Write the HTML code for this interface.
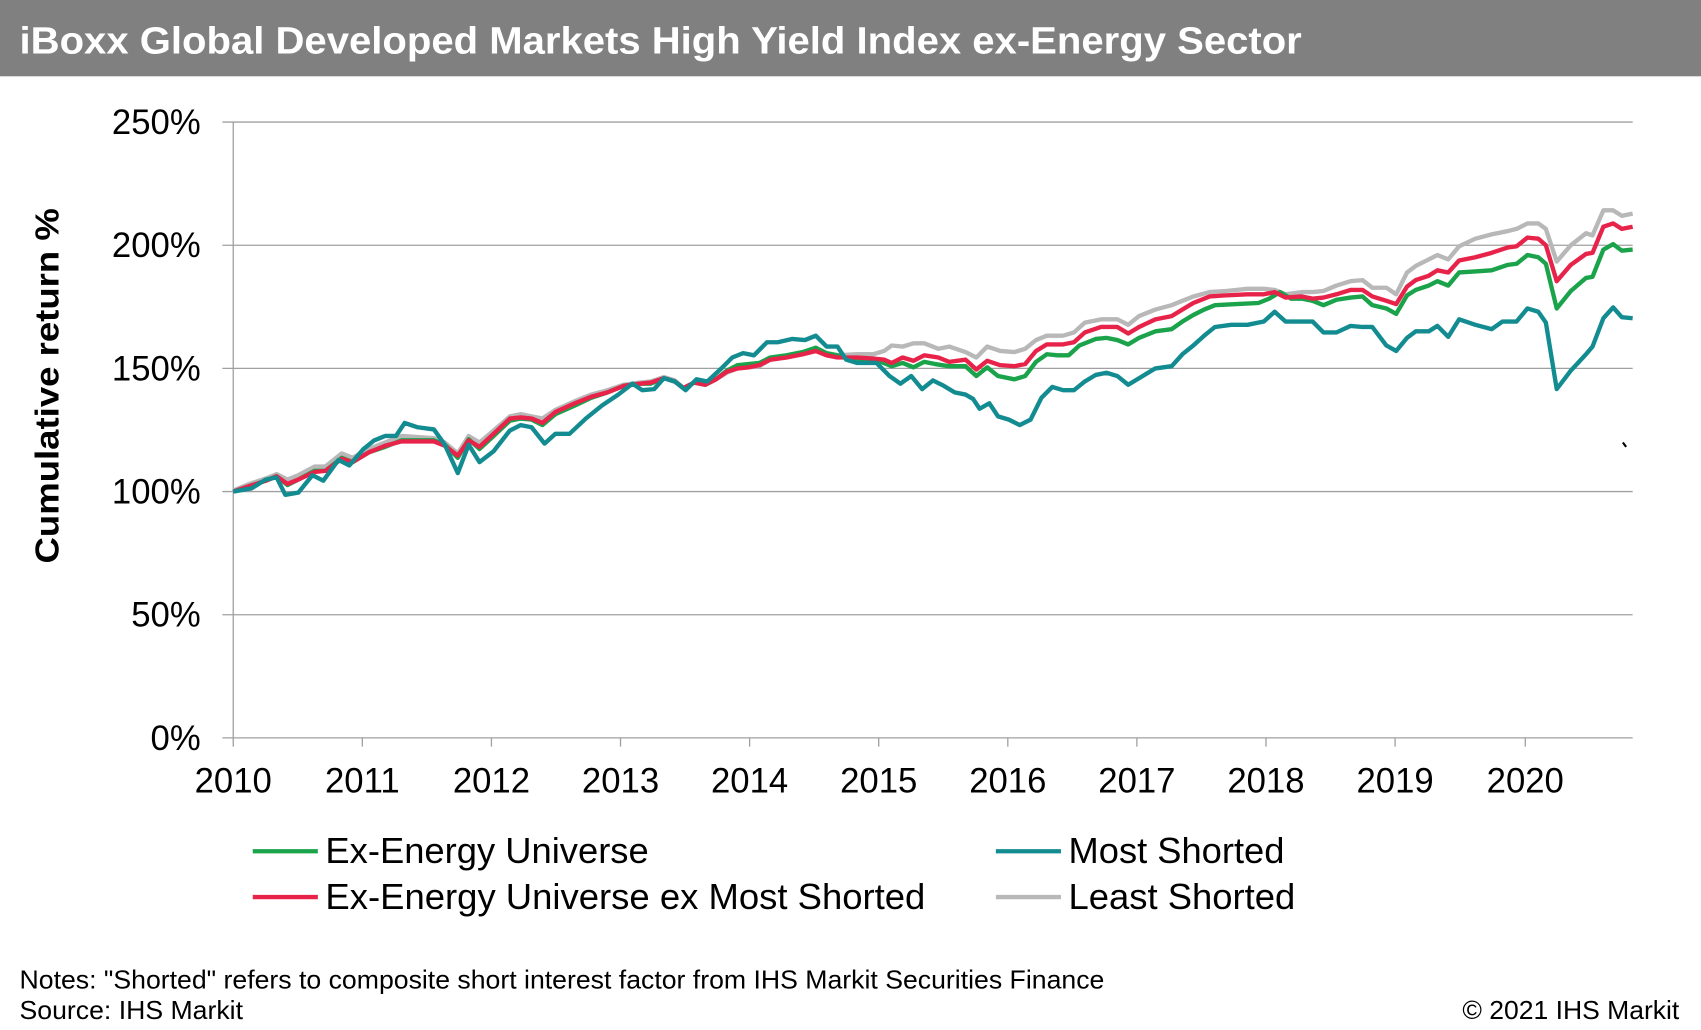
<!DOCTYPE html>
<html><head><meta charset="utf-8"><style>html,body{margin:0;padding:0;background:#fff}svg{display:block}</style></head>
<body>
<svg width="1701" height="1030" viewBox="0 0 1568 945" preserveAspectRatio="none" xmlns="http://www.w3.org/2000/svg" font-family="Liberation Sans, Arial, sans-serif">
<rect x="0" y="0" width="1568" height="70" fill="#808080"/>
<text x="18" y="49" font-size="35" font-weight="bold" fill="#fff" textLength="1182" lengthAdjust="spacingAndGlyphs">iBoxx Global Developed Markets High Yield Index ex-Energy Sector</text>
<g stroke="#a0a0a0" stroke-width="1.2">
<line x1="205" y1="112" x2="1505" y2="112"/>
<line x1="205" y1="225" x2="1505" y2="225"/>
<line x1="205" y1="338" x2="1505" y2="338"/>
<line x1="205" y1="451" x2="1505" y2="451"/>
<line x1="205" y1="564" x2="1505" y2="564"/>
<line x1="205" y1="677" x2="1505" y2="677"/>
<line x1="215" y1="112" x2="215" y2="685"/>
</g>
<g stroke="#a0a0a0" stroke-width="1.2">
<line x1="334" y1="677" x2="334" y2="685"/><line x1="453" y1="677" x2="453" y2="685"/><line x1="572" y1="677" x2="572" y2="685"/><line x1="691" y1="677" x2="691" y2="685"/><line x1="810" y1="677" x2="810" y2="685"/><line x1="929" y1="677" x2="929" y2="685"/><line x1="1048" y1="677" x2="1048" y2="685"/><line x1="1167" y1="677" x2="1167" y2="685"/><line x1="1286" y1="677" x2="1286" y2="685"/><line x1="1406" y1="677" x2="1406" y2="685"/>
</g>
<g font-size="32" fill="#000" text-anchor="end">
<text x="185" y="123">250%</text><text x="185" y="236">200%</text><text x="185" y="349">150%</text><text x="185" y="462">100%</text><text x="185" y="575">50%</text><text x="185" y="688">0%</text>
</g>
<g font-size="32" fill="#000" text-anchor="middle">
<text x="215" y="727">2010</text><text x="334" y="727">2011</text><text x="453" y="727">2012</text><text x="572" y="727">2013</text><text x="691" y="727">2014</text><text x="810" y="727">2015</text><text x="929" y="727">2016</text><text x="1048" y="727">2017</text><text x="1167" y="727">2018</text><text x="1286" y="727">2019</text><text x="1406" y="727">2020</text>
</g>
<text transform="translate(54,354) rotate(-90)" font-size="31" font-weight="bold" text-anchor="middle" textLength="326" lengthAdjust="spacingAndGlyphs">Cumulative return %</text>
<g fill="none" stroke-width="4" stroke-linejoin="round">
<polyline stroke="#b8b8b8" points="215,450 230,444 245,439 255,435 265,440 275,436 290,428 300,428 315,416 325,420 340,412 355,406 370,400 385,401 400,402 410,406 422,416 432,400 442,406 455,395 470,382 480,380 490,382 500,384 512,376 530,368 545,362 560,358 575,353 590,351 600,350 612,346 622,349 630,356 640,351 650,353 660,348 670,342 680,338 690,337 700,336 710,330 725,328 740,325 752,322 762,326 772,326 790,325 805,325 815,322 822,317 832,318 842,315 852,315 865,320 875,318 890,323 900,328 910,318 922,322 935,323 945,320 955,312 965,308 980,308 990,305 1000,296 1015,293 1030,293 1040,298 1050,290 1065,284 1080,280 1090,276 1100,272 1115,268 1130,267 1150,265 1165,265 1175,266 1185,270 1200,268 1210,268 1220,267 1232,262 1245,258 1256,257 1265,264 1278,264 1287,270 1297,250 1305,244 1317,238 1325,234 1335,238 1345,226 1360,219 1375,215 1390,212 1398,210 1408,205 1418,205 1425,210 1435,240 1448,225 1462,214 1468,216 1478,193 1487,193 1495,198 1505,196"/>
<polyline stroke="#1aa34a" points="215,451 230,446 245,441 255,437 265,445 275,440 290,432 300,432 315,420 325,424 340,415 355,410 370,404 385,404 400,404 410,408 422,420 432,403 442,412 455,400 470,386 480,384 490,385 500,390 512,380 530,372 545,365 560,360 575,354 590,352 600,352 612,347 622,350 630,356 640,351 650,353 660,348 670,340 680,335 690,334 700,333 710,328 725,326 740,323 752,319 762,324 772,326 785,330 800,332 812,332 822,336 832,333 842,337 852,332 862,334 875,336 890,336 900,345 910,337 920,345 935,348 945,345 955,332 965,325 975,326 985,326 995,317 1010,311 1020,310 1030,312 1040,316 1050,310 1065,304 1080,302 1090,295 1100,289 1110,284 1120,280 1140,279 1160,278 1170,274 1180,268 1190,274 1200,274 1210,276 1220,280 1232,275 1245,273 1256,272 1265,280 1278,283 1287,288 1297,271 1305,266 1317,262 1325,258 1335,262 1345,250 1360,249 1375,248 1390,243 1398,242 1408,234 1418,236 1425,242 1435,283 1448,267 1462,255 1468,254 1478,229 1487,224 1495,230 1505,229"/>
<polyline stroke="#e8234a" points="215,451 230,446 245,441 255,437 265,444 275,440 290,433 300,432 315,421 325,424 340,415 355,409 370,405 385,405 400,405 410,409 422,418 432,404 442,410 455,398 470,384 480,383 490,384 500,388 512,378 530,370 545,364 560,360 575,354 590,352 600,351 612,347 622,350 630,356 640,351 650,353 660,348 670,341 680,338 690,337 700,335 710,330 725,328 740,325 752,322 762,326 772,328 790,328 805,329 815,330 822,333 832,328 842,331 852,326 865,328 875,332 890,330 900,339 910,331 922,335 935,336 945,334 955,322 965,316 980,316 990,314 1000,305 1015,300 1030,300 1040,306 1050,300 1065,293 1080,290 1090,284 1100,278 1115,272 1130,271 1150,270 1165,270 1175,268 1185,273 1200,272 1210,274 1220,273 1232,270 1245,266 1256,266 1265,272 1278,276 1287,279 1297,263 1305,257 1317,253 1325,248 1335,250 1345,239 1360,236 1375,232 1390,227 1398,226 1408,218 1418,219 1425,225 1435,258 1448,243 1462,233 1468,232 1478,208 1487,205 1495,210 1505,208"/>
<polyline stroke="#138c91" points="215,451 232,448 245,440 255,438 263,454 275,452 288,436 298,441 312,422 322,427 335,412 345,404 355,400 365,400 373,388 385,392 400,394 410,408 422,434 432,408 442,424 455,414 470,395 480,390 490,392 502,407 512,398 525,398 540,384 555,372 570,362 583,352 592,358 603,357 612,347 622,350 632,358 642,348 652,350 665,338 675,328 685,324 695,326 707,314 717,314 730,311 742,312 752,308 762,318 772,318 780,330 790,333 808,333 820,345 830,352 840,345 850,357 860,349 870,354 880,360 890,362 897,366 903,375 912,370 920,382 930,385 940,390 950,385 960,365 970,355 980,358 990,358 1000,350 1010,344 1020,342 1030,345 1040,353 1050,347 1065,338 1080,336 1090,325 1100,317 1110,308 1120,300 1135,298 1150,298 1165,295 1175,286 1185,295 1200,295 1210,295 1220,305 1232,305 1245,299 1256,300 1265,300 1278,317 1287,322 1297,310 1305,304 1317,304 1325,299 1335,309 1345,293 1360,298 1375,302 1385,295 1398,295 1408,283 1418,286 1425,296 1435,357 1448,340 1462,325 1468,318 1478,292 1487,282 1495,291 1505,292"/>
</g>
<line x1="1496" y1="406" x2="1499" y2="410" stroke="#000" stroke-width="2"/>
<g stroke-width="4">
<line x1="233" y1="781" x2="293" y2="781" stroke="#1aa34a"/>
<line x1="233" y1="823" x2="293" y2="823" stroke="#e8234a"/>
<line x1="918" y1="781" x2="978" y2="781" stroke="#138c91"/>
<line x1="918" y1="823" x2="978" y2="823" stroke="#b8b8b8"/>
</g>
<g font-size="33" fill="#000">
<text x="300" y="792" textLength="298" lengthAdjust="spacingAndGlyphs">Ex-Energy Universe</text>
<text x="300" y="834" textLength="553" lengthAdjust="spacingAndGlyphs">Ex-Energy Universe ex Most Shorted</text>
<text x="985" y="792" textLength="199" lengthAdjust="spacingAndGlyphs">Most Shorted</text>
<text x="985" y="834" textLength="209" lengthAdjust="spacingAndGlyphs">Least Shorted</text>
</g>
<g font-size="24" fill="#000">
<text x="18" y="907" textLength="1000" lengthAdjust="spacingAndGlyphs">Notes: "Shorted" refers to composite short interest factor from IHS Markit Securities Finance</text>
<text x="18" y="935" textLength="206" lengthAdjust="spacingAndGlyphs">Source: IHS Markit</text>
<text x="1548" y="935" text-anchor="end" textLength="200" lengthAdjust="spacingAndGlyphs">© 2021 IHS Markit</text>
</g>
</svg>
</body></html>
